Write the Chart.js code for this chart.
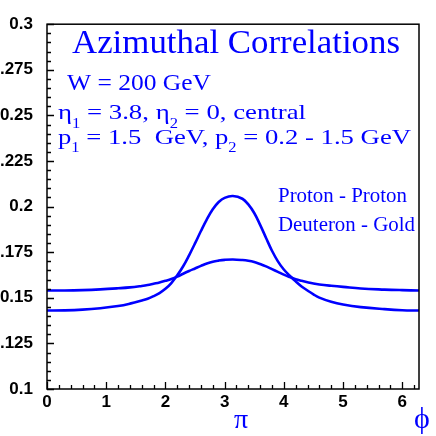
<!DOCTYPE html>
<html>
<head>
<meta charset="utf-8">
<script src="https://cdn.jsdelivr.net/npm/chart.js@4.4.0/dist/chart.umd.min.js"></script>
<style>
  html, body { margin: 0; padding: 0; background: #fff; }
</style>
</head>
<body>
<canvas id="chart" width="436" height="436"></canvas>
<script>
const phi = [0, 0.3, 0.6, 0.9, 1.2, 1.4, 1.6, 1.7, 1.8, 1.9, 2.0, 2.1, 2.2, 2.3, 2.4,
             2.5, 2.6, 2.7, 2.8, 2.9, 3.0, 3.14, 3.3, 3.4, 3.5, 3.6, 3.7, 3.8, 3.9,
             4.0, 4.1, 4.2, 4.3, 4.4, 4.5, 4.6, 4.8, 5.0, 5.3, 5.7, 6.0, 6.283];

// peaked curve
const protonProton = [0.1430, 0.1431, 0.1435, 0.1443, 0.1455, 0.1468, 0.1485, 0.1495,
                      0.1509, 0.1526, 0.1549, 0.1581, 0.1623, 0.1673, 0.1733, 0.1798,
                      0.1866, 0.1930, 0.1985, 0.2025, 0.2048, 0.2058, 0.2043, 0.2012,
                      0.1965, 0.1900, 0.1828, 0.1758, 0.1700, 0.1655, 0.1621, 0.1590,
                      0.1562, 0.1540, 0.1519, 0.1501, 0.1478, 0.1463, 0.1449, 0.1438,
                      0.1432, 0.1430];

// flatter curve
const deuteronGold = [0.1540, 0.1540, 0.1542, 0.1546, 0.1552, 0.1557, 0.1565, 0.1570,
                      0.1577, 0.1584, 0.1593, 0.1603, 0.1616, 0.1632, 0.1647, 0.1661,
                      0.1675, 0.1688, 0.1698, 0.1704, 0.1708, 0.1710, 0.1707, 0.1703,
                      0.1696, 0.1685, 0.1672, 0.1657, 0.1642, 0.1627, 0.1614, 0.1602,
                      0.1593, 0.1585, 0.1578, 0.1573, 0.1566, 0.1560, 0.1551, 0.1545,
                      0.1542, 0.1540];

const xTicks = [0, 1, 2, 3, 4, 5, 6];
const yTicks = [0.1, 0.125, 0.15, 0.175, 0.2, 0.225, 0.25, 0.275, 0.3];
const yTickLabels = ['0.1', '.125', '0.15', '.175', '0.2', '.225', '0.25', '.275', '0.3'];

const titleText = 'Azimuthal Correlations';
// [text, isSubscript]
const infoLines = [
    [['W = 200 GeV', 0]],
    [['η', 0], ['1', 1], [' = 3.8, η', 0], ['2', 1], [' = 0, central', 0]],
    [['p', 0], ['1', 1], [' = 1.5  GeV, p', 0], ['2', 1], [' = 0.2 - 1.5 GeV', 0]]
];
const seriesNames = ['Proton - Proton', 'Deuteron - Gold'];
const piMark = 'π';
const phiMark = 'ϕ';

const BLUE = '#0000ff';
const SERIF = '"Liberation Serif", "DejaVu Serif", serif';
const TICK_FONT = { family: '"Liberation Sans", Arial, sans-serif', weight: 'bold', size: 17 };

// draws text pieces (with subscripts) stretched to a given width, like the old ROOT output
function drawFitted(ctx, parts, x, y, size, width) {
    const fontFor = sub => (sub ? size * 0.62 : size) + 'px ' + SERIF;
    let total = 0;
    parts.forEach(([txt, sub]) => {
        ctx.font = fontFor(sub);
        total += ctx.measureText(txt).width;
    });
    ctx.save();
    ctx.translate(x, y);
    ctx.scale(width / total, 1);
    let cx = 0;
    parts.forEach(([txt, sub]) => {
        ctx.font = fontFor(sub);
        ctx.fillText(txt, cx, sub ? size * 0.4 : 0);
        cx += ctx.measureText(txt).width;
    });
    ctx.restore();
}

// frame, inward ticks and all the blue annotations
const decorations = {
    id: 'decorations',
    afterDraw(chart) {
        const { ctx, chartArea: a, scales: { x, y } } = chart;
        ctx.save();

        ctx.strokeStyle = '#000';
        ctx.lineWidth = 1.5;
        ctx.strokeRect(a.left, a.top, a.right - a.left, a.bottom - a.top);

        ctx.lineWidth = 1.3;
        ctx.beginPath();
        for (let v = x.min; v <= x.max + 1e-9; v += 0.2) {
            const major = Math.abs(v - Math.round(v)) < 1e-6;
            const px = Math.round(x.getPixelForValue(v)) + 0.5;
            ctx.moveTo(px, a.bottom);
            ctx.lineTo(px, a.bottom - (major ? 7 : 4));
        }
        for (let i = 0; i <= 40; i++) {
            const v = y.min + i * 0.005;
            const py = Math.round(y.getPixelForValue(v)) + 0.5;
            ctx.moveTo(a.left, py);
            ctx.lineTo(a.left + (i % 5 === 0 ? 7 : 4), py);
        }
        ctx.stroke();

        ctx.fillStyle = BLUE;
        ctx.textAlign = 'left';
        ctx.textBaseline = 'alphabetic';
        drawFitted(ctx, [[titleText, 0]], 72, 53, 33, 328);

        drawFitted(ctx, infoLines[0], 67, 90, 22.5, 144);
        drawFitted(ctx, infoLines[1], 58, 119, 22, 248);
        drawFitted(ctx, infoLines[2], 58, 143.5, 22, 353);

        drawFitted(ctx, [[seriesNames[0], 0]], 278, 202, 20, 129);
        drawFitted(ctx, [[seriesNames[1], 0]], 278, 230.5, 20, 137);

        ctx.textAlign = 'center';
        ctx.font = '28px ' + SERIF;
        ctx.fillText(piMark, 241, 428);
        ctx.font = '30px ' + SERIF;
        ctx.fillText(phiMark, 422, 428);

        ctx.restore();
    }
};

const lineStyle = {
    borderColor: BLUE,
    borderWidth: 2.6,
    pointRadius: 0,
    fill: false,
    tension: 0.4
};

new Chart(document.getElementById('chart'), {
    type: 'line',
    data: {
        datasets: [
            { label: seriesNames[0], data: phi.map((p, i) => ({ x: p, y: protonProton[i] })), ...lineStyle },
            { label: seriesNames[1], data: phi.map((p, i) => ({ x: p, y: deuteronGold[i] })), ...lineStyle }
        ]
    },
    options: {
        responsive: false,
        animation: false,
        devicePixelRatio: 1,
        layout: { padding: { top: 16, right: 17, left: 0, bottom: 0 } },
        plugins: {
            legend: { display: false },
            tooltip: { enabled: false }
        },
        scales: {
            x: {
                type: 'linear',
                min: 0,
                max: 2 * Math.PI,
                afterBuildTicks: s => { s.ticks = xTicks.map(v => ({ value: v })); },
                afterFit: s => { s.height = 47; },
                grid: { display: false, drawTicks: false },
                border: { display: false },
                ticks: { color: '#000', padding: 3, maxRotation: 0, autoSkip: false, font: TICK_FONT }
            },
            y: {
                type: 'linear',
                min: 0.1,
                max: 0.3,
                afterBuildTicks: s => { s.ticks = yTicks.map(v => ({ value: v })); },
                afterFit: s => { s.width = 47; },
                grid: { display: false, drawTicks: false },
                border: { display: false },
                ticks: {
                    color: '#000',
                    padding: 14,
                    autoSkip: false,
                    callback: (v, i) => yTickLabels[i],
                    font: TICK_FONT
                }
            }
        }
    },
    plugins: [decorations]
});
</script>
</body>
</html>
